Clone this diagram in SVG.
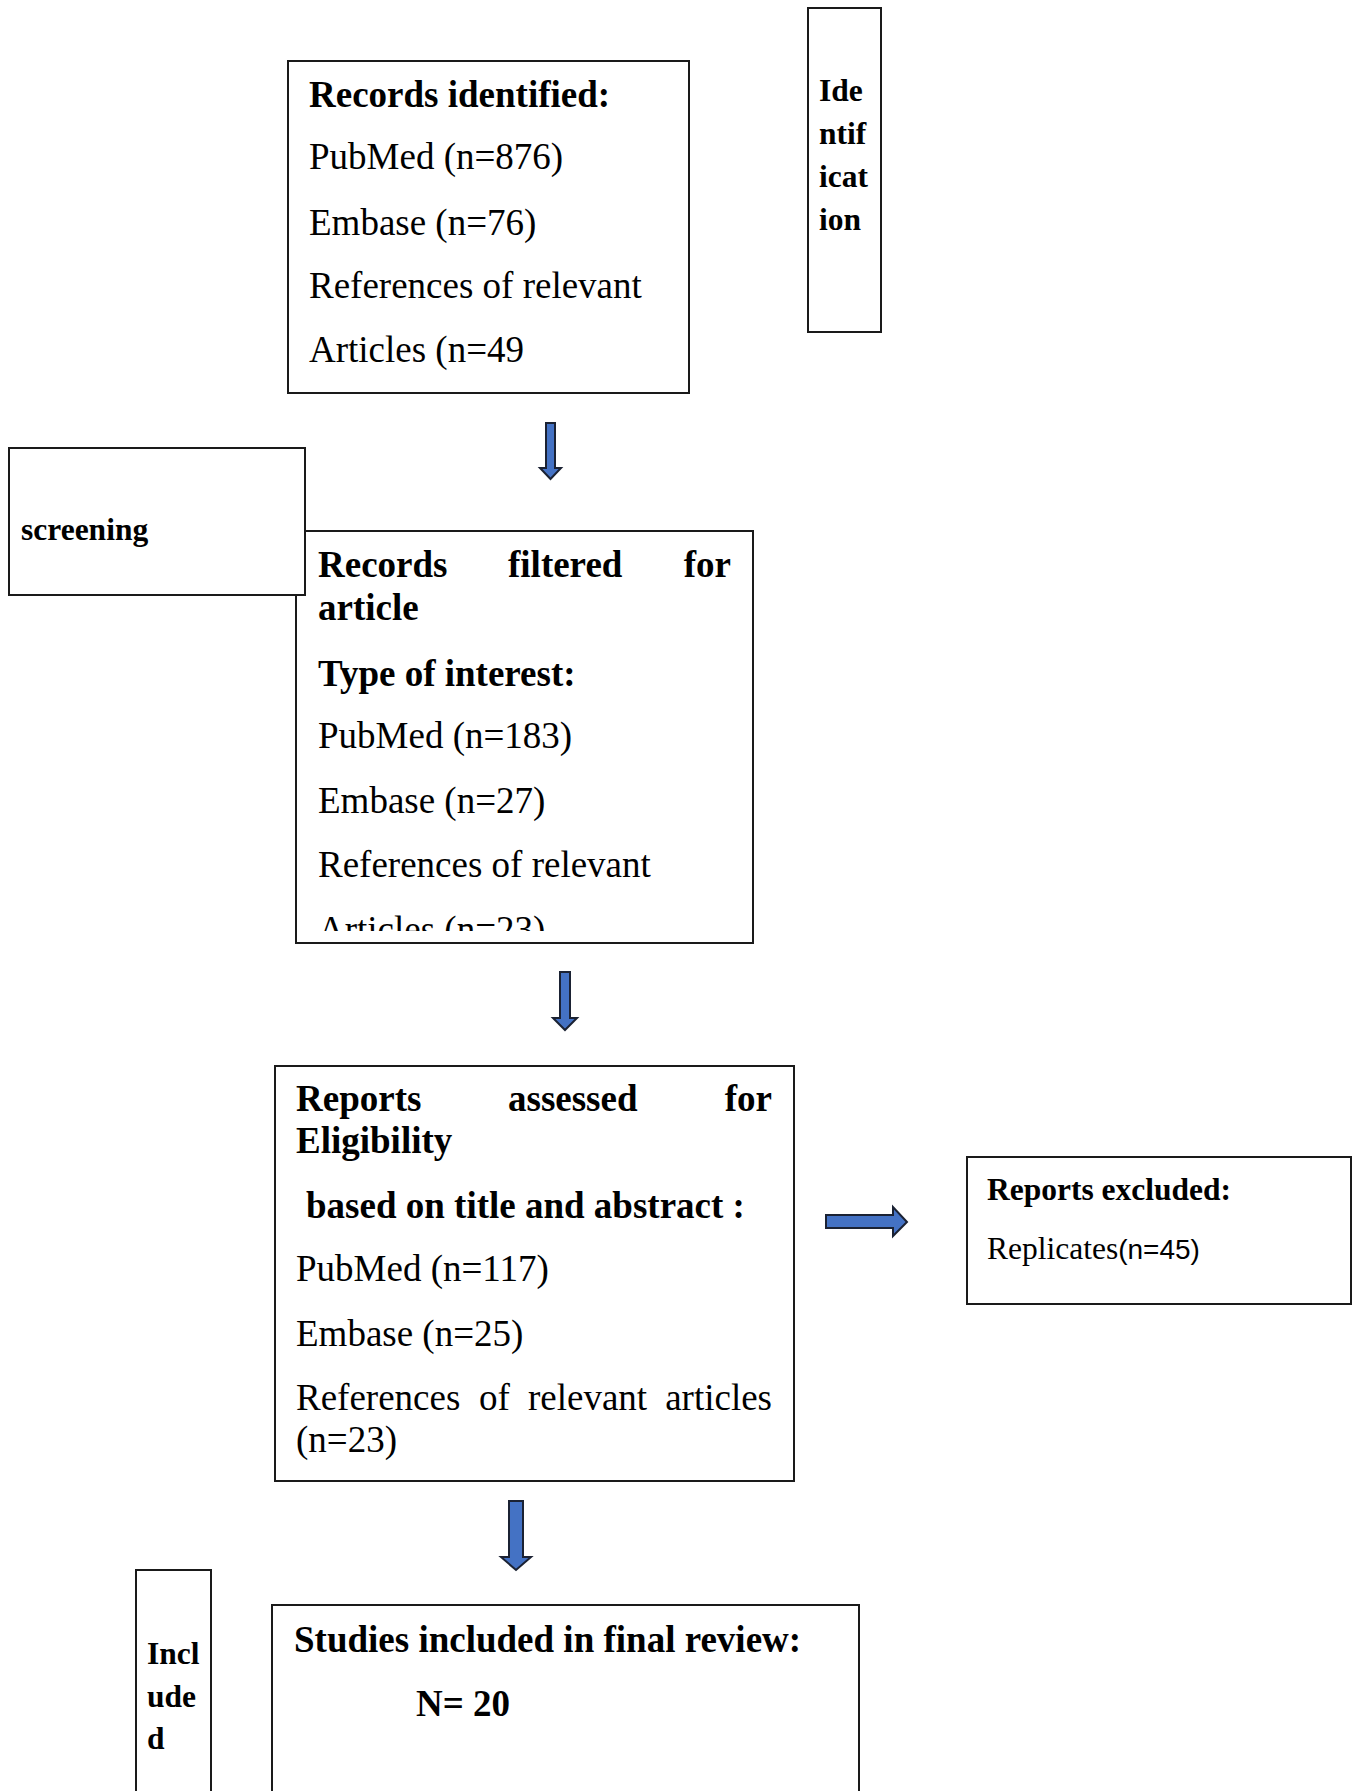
<svg xmlns="http://www.w3.org/2000/svg" width="1354" height="1791" viewBox="0 0 1354 1791">
<style>
.box{fill:#fff;stroke:#1a1a1a;stroke-width:2}
.t{font-family:"Liberation Serif","Times New Roman",serif;font-size:37px;fill:#000}
.b{font-weight:bold}
.s{font-size:31.5px}
.e{text-anchor:end}
.arr{fill:#4472C4;stroke:#1b2233;stroke-width:2;stroke-linejoin:miter}
</style>
<defs>
<clipPath id="clip2"><rect x="296" y="531" width="457" height="400"/></clipPath>
</defs>
<rect width="1354" height="1791" fill="#fff"/>
<g id="n-records-identified">
<rect class="box" x="288" y="61" width="401" height="332"/>
<text class="t b" x="309" y="107">Records identified:</text>
<text class="t" x="309" y="169">PubMed (n=876)</text>
<text class="t" x="309" y="235">Embase (n=76)</text>
<text class="t" x="309" y="298">References of relevant</text>
<text class="t" x="309" y="362">Articles (n=49</text>
</g>
<g id="n-identification">
<rect class="box" x="808" y="8" width="73" height="324"/>
<text class="t b s" x="819" y="101">Ide</text>
<text class="t b s" x="819" y="144">ntif</text>
<text class="t b s" x="819" y="187">icat</text>
<text class="t b s" x="819" y="230">ion</text>
</g>
<g id="n-records-filtered">
<rect class="box" x="296" y="531" width="457" height="412"/>
<text class="t b" x="318" y="577">Records</text>
<text class="t b" x="508" y="577">filtered</text>
<text class="t b e" x="731" y="577">for</text>
<text class="t b" x="318" y="620">article</text>
<text class="t b" x="318" y="686">Type of interest:</text>
<text class="t" x="318" y="748">PubMed (n=183)</text>
<text class="t" x="318" y="813">Embase (n=27)</text>
<text class="t" x="318" y="877">References of relevant</text>
<text class="t" x="318" y="942" clip-path="url(#clip2)">Articles (n=23)</text>
</g>
<g id="n-screening">
<rect class="box" x="9" y="448" width="296" height="147"/>
<text class="t b s" x="21" y="540">screening</text>
</g>
<g id="n-reports-assessed">
<rect class="box" x="275" y="1066" width="519" height="415"/>
<text class="t b" x="296" y="1111">Reports</text>
<text class="t b" x="508" y="1111">assessed</text>
<text class="t b e" x="772" y="1111">for</text>
<text class="t b" x="296" y="1153">Eligibility</text>
<text class="t b" x="306" y="1218">based on title and abstract :</text>
<text class="t" x="296" y="1281">PubMed (n=117)</text>
<text class="t" x="296" y="1346">Embase (n=25)</text>
<text class="t" x="296" y="1410">References</text>
<text class="t" x="479" y="1410">of</text>
<text class="t" x="528" y="1410">relevant</text>
<text class="t e" x="772" y="1410">articles</text>
<text class="t" x="296" y="1452">(n=23)</text>
</g>
<g id="n-reports-excluded">
<rect class="box" x="967" y="1157" width="384" height="147"/>
<text class="t b s" x="987" y="1200">Reports excluded:</text>
<text class="t s" x="987" y="1259">Replicates<tspan font-family="Liberation Sans, Arial, sans-serif" font-size="28">(n=45)</tspan></text>
</g>
<g id="n-included">
<rect class="box" x="136" y="1570" width="75" height="240"/>
<text class="t b s" x="147" y="1664">Incl</text>
<text class="t b s" x="147" y="1707">ude</text>
<text class="t b s" x="147" y="1749">d</text>
</g>
<g id="n-studies-included">
<rect class="box" x="272" y="1605" width="587" height="220"/>
<text class="t b" x="294" y="1652">Studies included in final review:</text>
<text class="t b" x="416" y="1716">N= 20</text>
</g>
<g id="connectors">
<polygon class="arr" points="546,423 555,423 555,468 561,468 550.5,479 540,468 546,468"/>
<polygon class="arr" points="560,972 570,972 570,1018 577,1018 565,1030 553,1018 560,1018"/>
<polygon class="arr" points="826,1215 893,1215 893,1207 907,1222 893,1236 893,1228 826,1228"/>
<polygon class="arr" points="509,1501 523,1501 523,1557 531,1557 516,1570 501,1557 509,1557"/>
</g>
</svg>
